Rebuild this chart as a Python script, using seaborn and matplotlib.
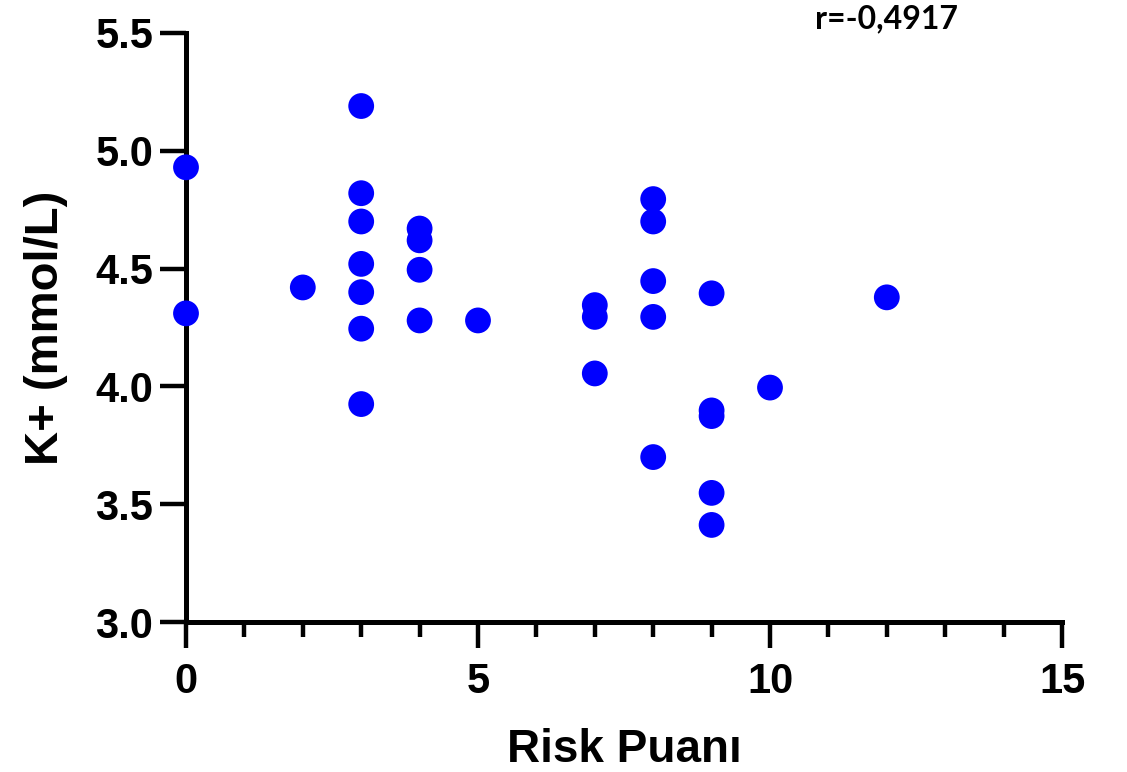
import matplotlib
matplotlib.use("Agg")
import matplotlib.pyplot as plt
import seaborn as sns
import pandas as pd
from matplotlib.ticker import MultipleLocator

# Data
risk_score = [0, 0, 2, 3, 3, 3, 3, 3, 3, 3, 4, 4, 4, 4, 5,
              7, 7, 7, 8, 8, 8, 8, 8, 9, 9, 9, 9, 9, 10, 12]
potassium = [4.93, 4.31, 4.42, 5.19, 4.82, 4.70, 4.52, 4.40, 4.245, 3.925,
             4.67, 4.62, 4.495, 4.28, 4.28,
             4.345, 4.295, 4.055, 4.795, 4.70, 4.447, 4.295, 3.70,
             4.395, 3.898, 3.874, 3.548, 3.412, 3.995, 4.378]
x_ticks = [0, 5, 10, 15]
y_ticks = [3.0, 3.5, 4.0, 4.5, 5.0, 5.5]
x_label = "Risk Puanı"
y_label = "K+ (mmol/L)"
annotation = "r=-0,4917"

df = pd.DataFrame({"risk": risk_score, "k": potassium})

sns.set_theme(style="ticks")
plt.rcParams['font.family'] = ['Liberation Sans', 'DejaVu Sans']

fig = plt.figure(figsize=(11.27, 7.72), dpi=100)
ax = fig.add_axes([186/1127, 1-622/772, (1062-186)/1127, (622-33)/772])

sns.scatterplot(data=df, x="risk", y="k", ax=ax, color="#0000FF", s=345,
                edgecolor="none", linewidth=0, clip_on=False, zorder=5, legend=False)

ax.set_xlim(0, 15)
ax.set_ylim(3.0, 5.5)
ax.set_xticks(x_ticks)
ax.set_xticklabels([str(t) for t in x_ticks])
ax.set_yticks(y_ticks)
ax.set_yticklabels([f"{t:.1f}" for t in y_ticks])
ax.xaxis.set_minor_locator(MultipleLocator(1))

for side in ["top", "right"]:
    ax.spines[side].set_visible(False)
for side in ["left", "bottom"]:
    ax.spines[side].set_linewidth(3.6)
    ax.spines[side].set_color("black")
    ax.spines[side].set_capstyle("projecting")

ax.tick_params(axis="both", which="major", length=18.5, width=3.2, color="black",
               labelsize=30, labelcolor="black")
ax.tick_params(axis="x", which="major", pad=10)
ax.tick_params(axis="y", which="major", pad=5)
ax.tick_params(axis="x", which="minor", length=11, width=3.2, color="black")
for lbl in ax.get_xticklabels() + ax.get_yticklabels():
    lbl.set_fontweight("bold")

ax.set_xlabel(x_label, fontsize=33, fontweight="bold", color="black", labelpad=19)
ax.set_ylabel(y_label, fontsize=34, fontweight="bold", color="black", labelpad=20)

fig.text(815/1127, 1-28/772, annotation, fontsize=23, fontweight="bold",
         family=["Lato", "DejaVu Sans"], color="black", ha="left", va="baseline")

fig.savefig("out.png", dpi=100, facecolor="white")
